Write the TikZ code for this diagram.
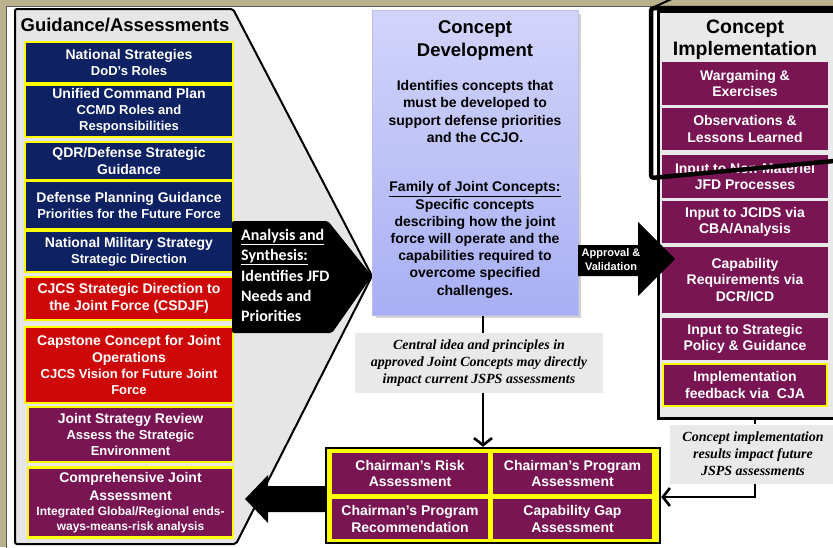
\documentclass[tikz,border=0pt]{standalone}
\usepackage{fontspec}
\setmainfont{Liberation Sans}
\newfontfamily\calibf{Carlito}
\newfontfamily\timesf{Liberation Serif}
\usetikzlibrary{arrows.meta}
\definecolor{bgtan}{RGB}{186,178,140}
\definecolor{navy}{RGB}{14,33,99}
\definecolor{cred}{RGB}{206,8,8}
\definecolor{cpurple}{RGB}{122,21,84}
\definecolor{cyellow}{RGB}{255,255,0}
\definecolor{fgrey}{RGB}{230,230,230}
\definecolor{ngrey}{RGB}{233,233,233}
\definecolor{lavtop}{RGB}{210,212,250}
\definecolor{lavbot}{RGB}{168,176,244}
\definecolor{lavedge}{RGB}{185,190,235}
\newcommand\lbs{\fontsize{13}{16.5}\selectfont}
\newcommand\lbss{\fontsize{12}{16.5}\selectfont}
\begin{document}
\begin{tikzpicture}[x=1pt,y=-1pt,
  lbox/.style={draw=cyellow, line width=2.4pt, text=white, align=center,
    minimum width=208pt, inner sep=0pt, font=\bfseries\fontsize{14}{16.5}\selectfont},
  rbox/.style={fill=cpurple, text=white, align=center, minimum width=166pt,
    inner sep=0pt, font=\bfseries\fontsize{14}{16.7}\selectfont},
  cell/.style={fill=cpurple, text=white, align=center, inner sep=0pt,
    font=\bfseries\fontsize{14}{16.5}\selectfont},
  note/.style={fill=ngrey, align=center, inner sep=0pt,
    font=\timesf\bfseries\itshape\fontsize{14}{17}\selectfont},
  cdtext/.style={align=center, inner sep=0pt, font=\bfseries\fontsize{14}{17.2}\selectfont},
  conn/.style={line width=2.6pt},
  barb/.style={-{Straight Barb[length=7pt,width=18pt]}}
]
\useasboundingbox (0,0) rectangle (833,547);
\clip (0,0) rectangle (833,547);
\fill[bgtan] (0,0) rectangle (833,547);
\fill[white] (6,6) rectangle (840,550);
\draw[black!65, line width=1pt] (6,550) -- (6,6) -- (840,6);
% funnel
\draw[fill=fgrey, line width=2pt, rounded corners=2pt] (15,9) -- (233,9) -- (372,276) -- (236,544) -- (15,544) -- cycle;
\node[font=\bfseries\fontsize{18.5}{20}\selectfont, inner sep=0pt] (ga) at (125,25) {Guidance/Assessments};
% left boxes
\node[lbox, fill=navy, minimum height=41pt] (l1) at (129,62.5) {National Strategies\\{\lbs DoD's Roles}};
\node[lbox, fill=navy, minimum height=52pt] (l2) at (129,111) {Unified Command Plan\\[-0.5pt]{\lbs CCMD Roles and}\\[-1pt]{\lbs Responsibilities}};
\node[lbox, fill=navy, minimum height=38pt] (l3) at (129,161) {QDR/Defense Strategic\\Guidance};
\node[lbox, fill=navy, minimum height=48pt] (l4) at (129,205) {Defense Planning Guidance\\[-0.5pt]{\lbs Priorities for the Future Force}};
\node[lbox, fill=navy, minimum height=41pt] (l5) at (129,251.5) {National Military Strategy\\[-0.5pt]{\lbs Strategic Direction}};
\node[lbox, fill=cred, minimum height=43pt] (l6) at (129,298.5) {CJCS Strategic Direction to\\the Joint Force (CSDJF)};
\node[lbox, fill=cred, minimum height=76pt] (l7) at (129,365) {Capstone Concept for Joint\\[1pt]Operations\\[-0.5pt]{\lbs CJCS Vision for Future Joint}\\[-0.5pt]{\lbs Force}};
\node[lbox, fill=cpurple, minimum width=205pt, minimum height=55pt] (l8) at (130.5,434.5) {Joint Strategy Review\\[-0.5pt]{\lbs Assess the Strategic}\\[-0.5pt]{\lbs Environment}};
\node[lbox, fill=cpurple, minimum width=205pt, minimum height=70pt] (l9) at (130.5,502.5) {Comprehensive Joint\\[1.5pt]Assessment\\[-1.5pt]{\lbss Integrated Global/Regional ends-}\\[-1.5pt]{\lbss ways-means-risk analysis}};
% analysis arrow
\fill[black, rounded corners=2pt] (232,221) -- (328,221) -- (372,276) -- (332,333) -- (232,333) -- cycle;
\node[anchor=west, align=left, text=white, inner sep=0pt,
  font=\calibf\bfseries\fontsize{16}{20.3}\selectfont] (an) at (241,275.5)
  {\underline{Analysis and}\\\underline{Synthesis:}\\Identifies JFD\\Needs and\\Priorities};
% concept development
\fill[black!18] (376,14) rectangle (581,318);
\node[draw=lavedge, line width=1pt, top color=lavtop, bottom color=lavbot,
  minimum width=206pt, minimum height=305pt, inner sep=0pt] (cd) at (475,162.5) {};
\node[align=center, inner sep=0pt, font=\bfseries\fontsize{18.5}{23}\selectfont] (cdt) at (475,40) {Concept\\Development};
\node[cdtext] (cdp1) at (475,111.5) {Identifies concepts that\\must be developed to\\support defense priorities\\and the CCJO.};
\node[cdtext] (cdp2) at (475,240) {\underline{Family of Joint Concepts:}\\Specific concepts\\describing how the joint\\force will operate and the\\capabilities required to\\overcome specified\\challenges.};
% concept implementation
\node[draw=black, line width=3pt, fill=ngrey, minimum width=190pt, minimum height=407pt,
  inner sep=0pt, anchor=north west] (ci) at (657,10) {};
\node[align=center, inner sep=0pt, font=\bfseries\fontsize{19.5}{21.5}\selectfont] (cit) at (745,39.5) {Concept\\Implementation};
\node[rbox, minimum height=43pt] (r1) at (745,83.5) {Wargaming \&\\Exercises};
\node[rbox, minimum height=42pt] (r2) at (745,129) {Observations \&\\Lessons Learned};
\node[rbox, minimum height=43pt] (r3) at (745,176.5) {Input to Non-Materiel\\JFD Processes};
\node[rbox, minimum height=42pt] (r4) at (745,222) {Input to JCIDS via\\CBA/Analysis};
\node[rbox, minimum height=66pt] (r5) at (745,280) {Capability\\Requirements via\\DCR/ICD};
\node[rbox, minimum height=42pt] (r6) at (745,339) {Input to Strategic\\Policy \& Guidance};
\node[rbox, draw=cyellow, line width=2.4pt, minimum width=164pt, minimum height=42pt] (r7) at (745,385) {Implementation\\feedback via \ CJA};
% callout frame
\draw[line width=4.5pt, rounded corners=3pt] (651,8) -- (845,8) -- (845,160) -- (651,178) -- cycle;
\draw[line width=2pt] (652,8) -- (676,-3);
% approval arrow
\fill[black] (578,245) -- (638,245) -- (638,222) -- (675,259) -- (638,296) -- (638,276) -- (578,276) -- cycle;
\node[align=center, text=white, inner sep=0pt, font=\bfseries\fontsize{11}{14.5}\selectfont] (av) at (611,259.5) {Approval \&\\Validation};
% notes
\node[note, minimum width=248pt, minimum height=60pt] (cn) at (479,363) {Central idea and principles in\\approved Joint Concepts may directly\\impact current JSPS assessments};
\node[note, minimum width=166pt, minimum height=59pt] (rn) at (753,454) {Concept implementation\\results impact future\\JSPS assessments};
% bottom box
\node[draw=black, fill=cyellow, line width=2.5pt, minimum width=334pt, minimum height=95pt, inner sep=0pt] (bb) at (493,495.5) {};
\node[cell, minimum width=156pt, minimum height=41pt] (b1) at (410,473.5) {Chairman's Risk\\Assessment};
\node[cell, minimum width=159pt, minimum height=41pt] (b2) at (572.5,473.5) {Chairman's Program\\Assessment};
\node[cell, minimum width=156pt, minimum height=40pt] (b3) at (410,519) {Chairman's Program\\Recommendation};
\node[cell, minimum width=159pt, minimum height=40pt] (b4) at (572.5,519) {Capability Gap\\Assessment};
% connectors
\draw[conn] (cd.south -| 483,0) -- (cn.north -| 483,0);
\draw[conn, barb] (cn.south -| 483,0) -- (bb.north -| 483,0);
\draw[conn] (ci.south -| 755,0) -- (rn.north -| 755,0);
\draw[conn, barb] (rn.south -| 755,0) -- (755,497) -- (bb.east |- 0,497);
% big left arrow
\fill[black] (bb.west |- 0,486) -- (268,486) -- (268,475) -- (245,499) -- (268,523) -- (268,512) -- (bb.west |- 0,512) -- cycle;
\end{tikzpicture}
\end{document}
